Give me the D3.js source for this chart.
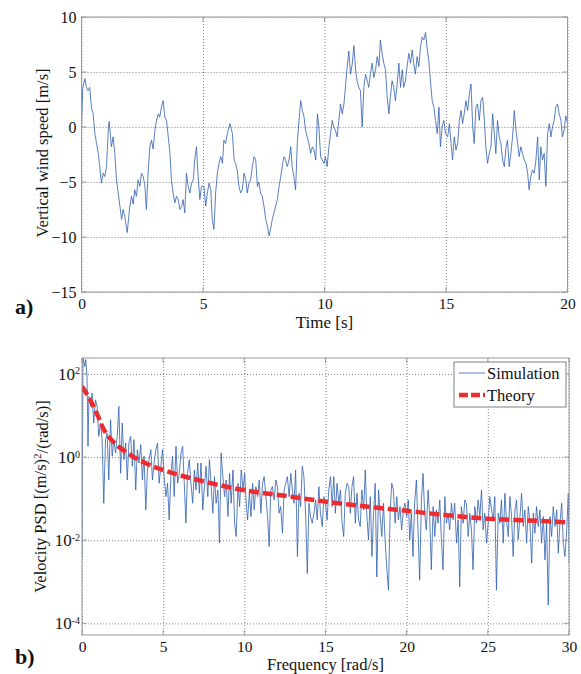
<!DOCTYPE html>
<html>
<head>
<meta charset="utf-8">
<script src="https://cdnjs.cloudflare.com/ajax/libs/d3/7.8.5/d3.min.js"></script>
<style>
body { margin: 0; background: #fff; }
svg text { font-family: "Liberation Serif", "DejaVu Serif", serif; fill: #111; }
</style>
</head>
<body>
<svg id="fig" width="581" height="674"></svg>
<script>
// ---- Data ----
const timeTicks = [0, 5, 10, 15, 20]
const speedTicks = [-15, -10, -5, 0, 5, 10]
const freqTicks = [0, 5, 10, 15, 20, 25, 30]
const psdTickExps = [-4, -2, 0, 2]

// a) vertical wind speed [m/s] vs time [s]
const timeSec = [
  0, 0.05, 0.14, 0.2, 0.27, 0.34, 0.41, 0.48, 0.55, 0.62, 0.69, 0.75, 0.82, 0.89, 0.96, 1.03, 1.1, 1.14, 1.23, 1.3,
  1.37, 1.44, 1.51, 1.58, 1.65, 1.71, 1.78, 1.88, 1.99, 2.06, 2.13, 2.19, 2.26, 2.33, 2.4, 2.47, 2.54, 2.61, 2.67, 2.74,
  2.81, 2.88, 2.95, 3.02, 3.09, 3.16, 3.22, 3.29, 3.36, 3.43, 3.5, 3.57, 3.64, 3.7, 3.77, 3.84, 3.91, 3.98, 4.05, 4.12,
  4.18, 4.25, 4.32, 4.39, 4.46, 4.53, 4.6, 4.66, 4.73, 4.8, 4.87, 4.94,
  5.04, 5.11, 5.18, 5.25, 5.32, 5.38, 5.45, 5.52, 5.59, 5.66, 5.73, 5.8, 5.86, 5.93, 6.0, 6.11, 6.21, 6.28, 6.34, 6.41,
  6.48, 6.55, 6.62, 6.69, 6.76, 6.82, 6.89, 6.96, 7.03, 7.1, 7.17, 7.24, 7.3, 7.37, 7.44, 7.51, 7.58, 7.65, 7.72, 7.78,
  7.85, 7.92, 7.99, 8.06, 8.13, 8.2, 8.26, 8.33, 8.4, 8.47, 8.54, 8.61, 8.67, 8.74, 8.81, 8.88, 8.95, 9.02, 9.09, 9.16,
  9.22, 9.29, 9.36, 9.43, 9.5, 9.57, 9.64, 9.71, 9.77, 9.84, 9.91, 9.98,
  10.04, 10.11, 10.18, 10.25, 10.32, 10.38, 10.45, 10.52, 10.59, 10.66, 10.73, 10.8, 10.86, 10.93, 11.0, 11.07, 11.14, 11.21, 11.28, 11.34,
  11.41, 11.48, 11.55, 11.62, 11.69, 11.76, 11.82, 11.89, 11.96, 12.03, 12.1, 12.17, 12.24, 12.3, 12.37, 12.44, 12.51, 12.58, 12.65, 12.71,
  12.78, 12.85, 12.92, 12.99, 13.06, 13.13, 13.2, 13.26, 13.33, 13.4, 13.47, 13.54, 13.61, 13.67, 13.74, 13.81, 13.88, 13.95, 14.02, 14.09,
  14.16, 14.23, 14.29, 14.36, 14.43, 14.5, 14.57, 14.64, 14.71, 14.77, 14.84, 14.91, 14.98,
  15.07, 15.14, 15.21, 15.27, 15.34, 15.41, 15.48, 15.55, 15.62, 15.68, 15.75, 15.82, 15.89, 15.96, 16.03, 16.1, 16.16, 16.23, 16.3, 16.37,
  16.44, 16.51, 16.58, 16.64, 16.71, 16.78, 16.85, 16.92, 16.99, 17.05, 17.12, 17.19, 17.26, 17.33, 17.4, 17.47, 17.53, 17.6, 17.67, 17.74,
  17.81, 17.88, 17.95, 18.01, 18.08, 18.15, 18.22, 18.29, 18.36, 18.42, 18.49, 18.56, 18.63, 18.7, 18.77, 18.84, 18.9, 18.97, 19.04, 19.11,
  19.18, 19.25, 19.32, 19.38, 19.45, 19.52, 19.59, 19.66, 19.73, 19.79, 19.86, 19.93, 20.0
]
const windSpeed = [
  0, 3.5, 4.4, 3.6, 3.3, 3.6, 1.8, 1.2, -0.6, -1.5, -2.4, -3.6, -5.1, -4.2, -4.5, -3.6, -0.3, 0.5, -1.8, -0.9,
  -2.4, -4.8, -6.0, -7.2, -8.4, -7.5, -8.1, -9.6, -7.2, -6.3, -7.0, -5.7, -6.3, -4.8, -5.4, -4.2, -4.5, -5.4, -7.5, -4.2,
  -1.8, -1.2, -2.0, -0.3, 0.6, 1.2, 0.9, 1.8, 2.4, 0.9, 0.6, -0.9, -2.4, -4.8, -6.0, -6.9, -6.3, -6.6, -7.5, -7.2,
  -6.6, -7.8, -4.2, -5.4, -6.0, -5.1, -4.8, -3.0, -1.8, -4.5, -6.6, -5.4,
  -5.4, -7.2, -6.0, -5.1, -5.7, -8.4, -9.3, -6.0, -4.2, -3.3, -2.7, -3.3, -1.2, -1.5, -0.6, 0.3, -0.6, -3.0, -3.3, -3.9,
  -5.4, -6.0, -5.7, -4.2, -4.8, -6.0, -5.1, -4.8, -3.6, -2.7, -3.0, -5.4, -5.0, -6.0, -6.3, -7.2, -8.4, -9.0, -9.9, -9.3,
  -8.4, -7.8, -7.2, -6.6, -5.4, -4.5, -3.6, -2.7, -3.0, -3.6, -3.0, -1.8, -3.6, -4.5, -5.7, -1.5, 0.6, 2.4, 1.5, 0.9,
  -0.3, -0.9, -1.5, -2.4, -1.8, -2.1, -3.0, 1.2, 0.0, -2.7, -3.0, -3.3,
  -2.7, -3.6, -1.8, -0.6, 0.6, 0.0, -0.3, -0.9, 0.6, 2.1, 1.2, 2.1, 3.6, 5.4, 6.9, 4.8, 5.7, 7.4, 5.2, 4.2,
  3.6, 3.3, 0.0, 3.6, 4.8, 4.2, 3.6, 4.8, 5.8, 4.5, 5.2, 6.4, 5.5, 7.9, 6.7, 5.8, 5.2, 2.7, 1.2, 2.7,
  4.2, 3.6, 2.4, 3.9, 5.8, 3.6, 5.2, 3.6, 4.2, 5.5, 6.7, 5.8, 7.0, 5.8, 4.8, 6.4, 5.5, 7.3, 8.2, 7.9,
  8.6, 7.0, 6.1, 4.2, 2.4, 1.8, 0.6, -0.6, 1.8, -1.8, 0.0, 0.6, -0.6,
  -0.9, 0.3, -1.5, -3.0, -0.9, -2.1, -1.5, 0.6, 1.5, 0.3, 1.2, 2.4, 1.5, 3.0, 3.9, 0.0, -1.5, 1.8, 2.1, 0.6,
  2.4, 2.7, 0.6, -1.8, -3.3, -2.4, -1.8, 1.2, -0.6, -2.4, 0.6, -0.9, -1.5, -3.0, -3.6, -1.8, -1.2, -3.6, -2.4, -0.9,
  1.5, -0.3, -1.5, -2.7, -1.8, -2.4, -3.0, -3.3, -4.2, -5.7, -4.5, -3.9, -4.2, -3.0, -0.9, -4.8, -1.8, -3.0, -2.4, -5.4,
  -0.6, 0.3, -0.9, 0.0, 0.6, 1.8, 2.1, 1.2, 0.6, -0.9, -0.3, 1.0, 0.3
]

// b) simulated velocity PSD: [frequency rad/s, log10 of PSD]
const psdSimulation = [
  [0, -2.4], [0.06, 2.4], [0.17, 2.18], [0.23, 2.35], [0.31, 1.94], [0.37, 0.26], [0.43, 1.46], [0.54, 1.22], [0.62, 1.54], [0.72, 0.82],
  [0.83, 1.38], [0.93, 1.22], [1.03, 0.5], [1.14, 0.82], [1.24, 0.42], [1.34, -1.11], [1.45, 0.42], [1.55, 0.58], [1.65, -0.55], [1.76, 0.9],
  [1.86, 0.02], [1.96, 0.42], [2.07, 0.1], [2.17, 0.5], [2.27, 1.22], [2.38, -0.39], [2.48, 0.82], [2.58, -0.06], [2.69, 0.34], [2.79, -0.55],
  [2.89, 0.34], [3.0, 0.5], [3.1, -0.22], [3.2, 0.42], [3.31, -0.79], [3.41, 0.18], [3.51, -0.14], [3.62, 0.3], [3.72, -0.55], [3.82, 0.02],
  [3.93, -1.27], [4.03, -0.31], [4.13, -0.06], [4.24, 0.18], [4.34, -0.55], [4.44, -0.14], [4.55, 0.18], [4.65, 0.34], [4.75, -0.63], [4.86, -0.22],
  [4.96, 0.18], [5.06, -0.47], [5.17, -0.95], [5.27, -0.63], [5.37, -1.51], [5.48, -0.39], [5.58, 0.02], [5.68, -0.95], [5.79, 0.26], [5.89, -0.63],
  [5.99, -0.39], [6.1, 0.1], [6.2, 0.26], [6.3, -0.63], [6.4, -1.59], [6.5, -0.39], [6.61, -0.06], [6.71, -0.63], [6.82, -1.11], [6.92, -0.31],
  [7.02, -0.79], [7.13, -0.14], [7.23, -0.87], [7.33, -0.14], [7.44, -1.27], [7.54, -0.71], [7.64, -0.22], [7.75, -0.95], [7.85, -0.06], [7.95, -0.63],
  [8.06, -1.35], [8.16, -0.47], [8.26, -1.11], [8.37, -0.79], [8.47, -2.07], [8.57, 0.1], [8.68, -0.47], [8.78, -0.95], [8.88, -0.55], [8.99, -1.43],
  [9.09, -0.39], [9.19, -1.11], [9.3, -0.31], [9.4, -1.59], [9.5, -1.91], [9.61, -0.63], [9.71, -1.19], [9.81, -0.31], [9.92, -0.79], [10.02, -0.39],
  [10.1, -1.03], [10.2, -1.51], [10.31, -0.87], [10.41, -1.43], [10.51, -0.63], [10.61, -1.27], [10.71, -0.71], [10.82, -0.95], [10.92, -0.55], [11.02, -1.35],
  [11.12, -0.63], [11.22, -0.47], [11.33, -0.95], [11.43, -1.43], [11.53, -2.15], [11.63, -0.79], [11.73, -0.71], [11.84, -1.03], [11.94, -0.55], [12.04, -0.71],
  [12.14, -1.35], [12.24, -1.19], [12.35, -1.83], [12.45, -0.79], [12.55, -0.63], [12.65, -0.47], [12.76, -0.95], [12.86, -0.39], [12.96, -0.79], [13.06, -1.11],
  [13.16, -0.31], [13.27, -2.39], [13.37, -0.87], [13.47, -1.19], [13.57, -0.22], [13.67, -0.47], [13.78, -1.43], [13.88, -2.8], [13.98, -1.11], [14.08, -1.43],
  [14.18, -1.59], [14.29, -1.35], [14.39, -1.03], [14.49, -1.51], [14.59, -0.71], [14.69, -1.35], [14.8, -1.67], [14.9, -0.95], [15.0, -1.11], [15.1, -1.51],
  [15.2, -0.79], [15.31, -0.47], [15.41, -1.19], [15.51, -0.47], [15.61, -1.35], [15.71, -0.63], [15.82, -1.11], [15.92, -0.79], [16.02, -1.59], [16.12, -1.91],
  [16.22, -0.87], [16.33, -0.63], [16.43, -0.71], [16.53, -1.35], [16.63, -0.71], [16.73, -0.47], [16.84, -1.59], [16.94, -0.87], [17.04, -1.51], [17.14, -1.67],
  [17.24, -0.79], [17.35, -1.27], [17.45, -0.31], [17.55, -1.43], [17.65, -1.99], [17.76, -0.95], [17.86, -2.39], [17.96, -1.35], [18.06, -0.63], [18.16, -2.88],
  [18.27, -0.79], [18.37, -1.43], [18.47, -1.91], [18.57, -1.11], [18.67, -1.99], [18.78, -2.71], [18.88, -3.2], [18.98, -1.35], [19.08, -0.63], [19.18, -0.79],
  [19.29, -1.59], [19.39, -0.95], [19.49, -1.51], [19.59, -1.19], [19.69, -1.75], [19.8, -1.27], [19.9, -1.11], [20.0, -1.43], [20.1, -1.03], [20.19, -1.99],
  [20.29, -1.35], [20.39, -2.39], [20.49, -1.11], [20.6, -0.55], [20.7, -1.75], [20.8, -2.96], [20.91, -1.03], [21.01, -0.39], [21.11, -1.35], [21.21, -1.75],
  [21.32, -0.79], [21.42, -1.43], [21.52, -2.71], [21.63, -1.19], [21.73, -1.91], [21.83, -1.27], [21.93, -1.59], [22.04, -1.03], [22.14, -1.99], [22.24, -2.71],
  [22.35, -0.95], [22.45, -1.59], [22.55, -1.35], [22.65, -1.75], [22.76, -1.11], [22.86, -1.51], [22.96, -1.11], [23.07, -2.07], [23.17, -1.51], [23.27, -3.12],
  [23.37, -1.19], [23.48, -1.59], [23.58, -1.03], [23.68, -1.11], [23.79, -1.91], [23.89, -1.35], [23.99, -1.75], [24.09, -2.71], [24.2, -1.19], [24.3, -1.59],
  [24.4, -1.03], [24.51, -1.43], [24.61, -0.79], [24.71, -1.75], [24.81, -1.35], [24.92, -2.07], [25.02, -1.59], [25.12, -0.95], [25.23, -1.27], [25.33, -1.51],
  [25.43, -0.95], [25.53, -3.2], [25.64, -1.35], [25.74, -1.59], [25.84, -1.03], [25.95, -2.07], [26.05, -0.87], [26.15, -1.51], [26.26, -1.91], [26.36, -0.95],
  [26.46, -1.43], [26.56, -2.39], [26.67, -1.27], [26.77, -1.03], [26.87, -1.99], [26.98, -1.43], [27.08, -0.87], [27.18, -1.67], [27.28, -1.27], [27.39, -2.07],
  [27.49, -1.19], [27.59, -1.59], [27.7, -2.55], [27.8, -1.35], [27.9, -1.83], [28.0, -1.19], [28.11, -1.67], [28.21, -1.27], [28.31, -2.07], [28.42, -1.43],
  [28.52, -2.47], [28.62, -1.59], [28.72, -3.56], [28.83, -1.43], [28.93, -1.91], [29.03, -1.19], [29.14, -1.67], [29.24, -1.27], [29.34, -2.31], [29.44, -1.59],
  [29.55, -1.11], [29.65, -2.07], [29.75, -2.39], [29.86, -1.75], [29.96, -0.87], [30.0, -2.55]
]

// b) theoretical PSD [(m/s)^2/(rad/s)]
const theoryFreq = [0, 0.45, 0.9, 1.4, 1.9, 2.95, 4, 5, 7.5, 10, 12.5, 15, 17.5, 20, 22.5, 25, 27.5, 30]
const theoryPsd = [50, 26, 11.5, 4.2, 2.4, 1.15, 0.69, 0.49, 0.26, 0.16, 0.117, 0.085, 0.065, 0.051, 0.04, 0.033, 0.03, 0.027]

// ---- Drawing ----
const svg = d3.select("#fig")
const blue = "#2f5fae"
const red = "#ee2b2e"

function drawPanel(id, box, x, y, xTicks, yTicks, yFormat) {
    const g = svg.append("g").attr("id", id)
    const w = box.right - box.left, h = box.bottom - box.top

    // dotted grid
    g.append("g")
        .attr("transform", `translate(0,${box.bottom})`)
        .call(d3.axisBottom(x).tickValues(xTicks).tickSize(-h).tickFormat(""))
        .call(a => a.select(".domain").remove())
        .selectAll("line").attr("stroke", "#666").attr("stroke-width", 0.8).attr("stroke-dasharray", "1,2")
    g.append("g")
        .attr("transform", `translate(${box.left},0)`)
        .call(d3.axisLeft(y).tickValues(yTicks).tickSize(-w).tickFormat(""))
        .call(a => a.select(".domain").remove())
        .selectAll("line").attr("stroke", "#666").attr("stroke-width", 0.8).attr("stroke-dasharray", "1,2")

    // tick labels
    g.append("g")
        .attr("transform", `translate(0,${box.bottom})`)
        .call(d3.axisBottom(x).tickValues(xTicks).tickSize(0).tickPadding(6))
        .call(a => a.select(".domain").remove())
        .selectAll("text").attr("font-size", 15.5).attr("font-family", "Liberation Serif").attr("fill", "#111")
    const yAxis = g.append("g")
        .attr("transform", `translate(${box.left},0)`)
        .call(d3.axisLeft(y).tickValues(yTicks).tickSize(0).tickPadding(yFormat ? 2 : 5).tickFormat(yFormat ? () => "10" : d3.format("d")))
        .call(a => a.select(".domain").remove())
    yAxis.selectAll("text").attr("font-size", yFormat ? 17 : 16).attr("font-family", "Liberation Serif").attr("fill", "#111")
    if (yFormat) {
        yAxis.selectAll("text").each(function(d) {
            d3.select(this).append("tspan").attr("dy", "-0.55em").attr("font-size", 10).text(yFormat(d))
        })
    }
    return g
}

function drawFrame(g, box, x, y, xTicks, yTicks) {
    const w = box.right - box.left, h = box.bottom - box.top
    // small inward ticks on all sides
    const tk = 5
    const tickLines = []
    xTicks.forEach(v => {
        tickLines.push([x(v), box.bottom, x(v), box.bottom - tk])
        tickLines.push([x(v), box.top, x(v), box.top + tk])
    })
    yTicks.forEach(v => {
        tickLines.push([box.left, y(v), box.left + tk, y(v)])
        tickLines.push([box.right, y(v), box.right - tk, y(v)])
    })
    g.append("g").selectAll("line").data(tickLines).join("line")
        .attr("x1", d => d[0]).attr("y1", d => d[1]).attr("x2", d => d[2]).attr("y2", d => d[3])
        .attr("stroke", "#888").attr("stroke-width", 0.8)
    g.append("rect")
        .attr("x", box.left).attr("y", box.top).attr("width", w).attr("height", h)
        .attr("fill", "none").attr("stroke", "#9a9a9a").attr("stroke-width", 1)
}

// ---- panel a ----
const boxA = { left: 81.5, right: 567.5, top: 17, bottom: 292 }
const xA = d3.scaleLinear().domain([0, 20]).range([boxA.left, boxA.right])
const yA = d3.scaleLinear().domain([-15, 10]).range([boxA.bottom, boxA.top])
const gA = drawPanel("panel-a", boxA, xA, yA, timeTicks, speedTicks, null)

svg.append("clipPath").attr("id", "clipA").append("rect")
    .attr("x", boxA.left).attr("y", boxA.top).attr("width", boxA.right - boxA.left).attr("height", boxA.bottom - boxA.top)

const windLine = d3.line().x((d, i) => xA(timeSec[i])).y(d => yA(d))
gA.append("path")
    .datum(windSpeed)
    .attr("clip-path", "url(#clipA)")
    .attr("d", windLine)
    .attr("fill", "none").attr("stroke", blue).attr("stroke-width", 0.8)

drawFrame(gA, boxA, xA, yA, timeTicks, speedTicks)

gA.append("text").attr("x", (boxA.left + boxA.right) / 2).attr("y", 328)
    .attr("text-anchor", "middle").attr("font-size", 17).text("Time [s]")
gA.append("text").attr("transform", "translate(48,153) rotate(-90)")
    .attr("text-anchor", "middle").attr("font-size", 16.5).text("Vertical wind speed [m/s]")
gA.append("text").attr("x", 15).attr("y", 314).attr("font-size", 22).attr("font-weight", "bold").text("a)")

// ---- panel b ----
const boxB = { left: 82, right: 569, top: 358, bottom: 635 }
const xB = d3.scaleLinear().domain([0, 30]).range([boxB.left, boxB.right])
const yB = d3.scaleLog().domain([Math.pow(10, -4.28), Math.pow(10, 2.385)]).range([boxB.bottom, boxB.top])
const psdTicks = psdTickExps.map(e => Math.pow(10, e))
const gB = drawPanel("panel-b", boxB, xB, yB, freqTicks, psdTicks, d => String(Math.round(Math.log10(d))))

svg.append("clipPath").attr("id", "clipB").append("rect")
    .attr("x", boxB.left).attr("y", boxB.top).attr("width", boxB.right - boxB.left).attr("height", boxB.bottom - boxB.top)

const simLine = d3.line().x(d => xB(d[0])).y(d => yB(Math.pow(10, d[1])))
gB.append("path")
    .datum(psdSimulation)
    .attr("clip-path", "url(#clipB)")
    .attr("d", simLine)
    .attr("fill", "none").attr("stroke", blue).attr("stroke-width", 0.8)

const theoryLine = d3.line().curve(d3.curveMonotoneX).x((d, i) => xB(theoryFreq[i])).y(d => yB(d))
gB.append("path")
    .datum(theoryPsd)
    .attr("clip-path", "url(#clipB)")
    .attr("d", theoryLine)
    .attr("fill", "none").attr("stroke", red).attr("stroke-width", 4.5).attr("stroke-dasharray", "10,4")

drawFrame(gB, boxB, xB, yB, freqTicks, psdTicks)

gB.append("text").attr("x", (boxB.left + boxB.right) / 2).attr("y", 670)
    .attr("text-anchor", "middle").attr("font-size", 16.5).text("Frequency [rad/s]")
const psdLabel = gB.append("text").attr("transform", `translate(46,${(boxB.top + boxB.bottom) / 2}) rotate(-90)`)
    .attr("text-anchor", "middle").attr("font-size", 16.5)
psdLabel.append("tspan").text("Velocity PSD [(m/s)")
psdLabel.append("tspan").attr("dy", "-0.45em").attr("font-size", 11).text("2")
psdLabel.append("tspan").attr("dy", "0.45em").text("/(rad/s)]")
gB.append("text").attr("x", 15).attr("y", 664).attr("font-size", 22).attr("font-weight", "bold").text("b)")

// legend
const legend = gB.append("g").attr("transform", "translate(454,362)")
legend.append("rect").attr("width", 112).attr("height", 45)
    .attr("fill", "#fff").attr("stroke", "#808080").attr("stroke-width", 1)
legend.append("line").attr("x1", 5).attr("x2", 31).attr("y1", 11).attr("y2", 11)
    .attr("stroke", blue).attr("stroke-width", 0.8)
legend.append("text").attr("x", 33).attr("y", 17).attr("font-size", 16.5).text("Simulation")
legend.append("line").attr("x1", 5).attr("x2", 31).attr("y1", 33).attr("y2", 33)
    .attr("stroke", red).attr("stroke-width", 4.5).attr("stroke-dasharray", "9,3")
legend.append("text").attr("x", 33).attr("y", 39).attr("font-size", 16.5).text("Theory")
</script>
</body>
</html>
